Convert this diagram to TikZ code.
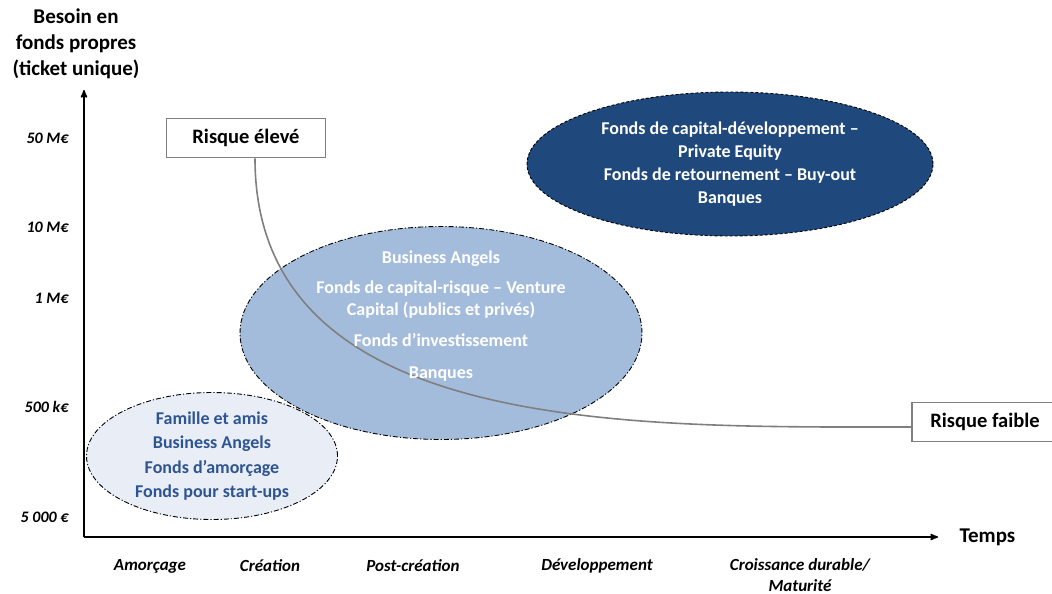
\documentclass[tikz,border=0pt]{standalone}
\usepackage{fontspec}
\setmainfont{Carlito}
\usetikzlibrary{shapes.geometric, positioning, arrows}
\definecolor{darkblue}{HTML}{1F487C}
\definecolor{midblue}{HTML}{A4BCDC}
\definecolor{paleblue}{HTML}{E9EEF6}
\definecolor{inkblue}{HTML}{2E5591}
\definecolor{riskgray}{HTML}{7F7F7F}
\tikzset{
x=1pt, y=-1pt, % one unit is one pixel of the sketch, y grows downwards
>=stealth', % small filled arrow heads
axis/.style={->, line width=1.6pt}, % the two axes
axistitle/.style={font=\fontsize{21}{26}\selectfont\bfseries, align=center}, % axis names
tick/.style={font=\fontsize{16}{18}\selectfont\bfseries\itshape, anchor=east}, % amounts on the y axis
phase/.style={font=\fontsize{17}{21}\selectfont\bfseries\itshape, align=center, inner sep=1pt}, % stages on the x axis
zone/.style={ellipse, inner sep=0pt, line width=0.9pt}, % the three funding areas
dashdot/.style={dash pattern=on 5pt off 2pt on 1.2pt off 2pt}, % border of the light areas
zonetext/.style={font=\fontsize{18}{23}\selectfont\bfseries, align=center}, % text inside the areas
riskbox/.style={draw=riskgray, line width=1.8pt, fill=white, minimum height=39, font=\fontsize{20.5}{22}\selectfont\bfseries}, % risk labels
riskline/.style={riskgray, line width=1.6pt}, % risk curve
}

\begin{document}
\begin{tikzpicture}
    \useasboundingbox (0,0) rectangle (1052,594);
    % axes
    \coordinate (origin) at (84,537);
    \coordinate (ytop) at (84,90);
    \coordinate (xend) at (938,537);
    \draw[axis] (origin) -- (ytop);
    \draw[axis] (origin) -- (xend);
    \node[axistitle] (need) at (76,44) {Besoin en\\fonds propres\\(ticket unique)};
    \node[axistitle, right=18pt of xend] (time) {Temps};
    % amounts
    \foreach \y/\t [count=\i] in {138/50 M€, 227/10 M€, 298/1 M€, 407/500 k€, 517/5 000 €}
        \node[tick] (tick\i) at (72,\y) {\t};
    % stages
    \foreach \x/\t [count=\i] in {150/Amorçage, 270/Création, 413/Post-création, 597/Développement}
        \node[phase] (stage\i) at (\x,566) {\t};
    \node[phase] (stage5) at (800,575) {Croissance durable/\\Maturité};
    % funding areas
    \node[zone, draw, dashdot, fill=paleblue, minimum width=251, minimum height=127] (seed) at (212,456) {};
    \node[zone, draw, dashdot, fill=midblue, minimum width=402, minimum height=213] (venture) at (441,333) {};
    \node[zone, draw, densely dashed, fill=darkblue, minimum width=406, minimum height=144] (growth) at (730,164) {};
    % risk
    \node[riskbox, minimum width=159] (high) at (246,138) {Risque élevé};
    \node[riskbox, minimum width=146] (low) at (985,422) {Risque faible};
    \draw[riskline] ([xshift=9pt]high.south) to[out=-90, in=180] ([yshift=-5pt]low.west);
    % texts of the areas
    \node[zonetext, text=inkblue, font=\fontsize{18}{24.5}\selectfont\bfseries] (seedtext) at (seed) {Famille et amis\\Business Angels\\Fonds d’amorçage\\Fonds pour start-ups};
    \node[zonetext, text=white, font=\fontsize{18}{22}\selectfont\bfseries] (venturetext) at (441,316) {Business Angels\\[8pt]Fonds de capital-risque -- Venture\\Capital (publics et privés)\\[9pt]Fonds d’investissement\\[10pt]Banques};
    \node[zonetext, text=white] (growthtext) at (growth) {Fonds de capital-développement --\\Private Equity\\Fonds de retournement -- Buy-out\\Banques};
\end{tikzpicture}
\end{document}
